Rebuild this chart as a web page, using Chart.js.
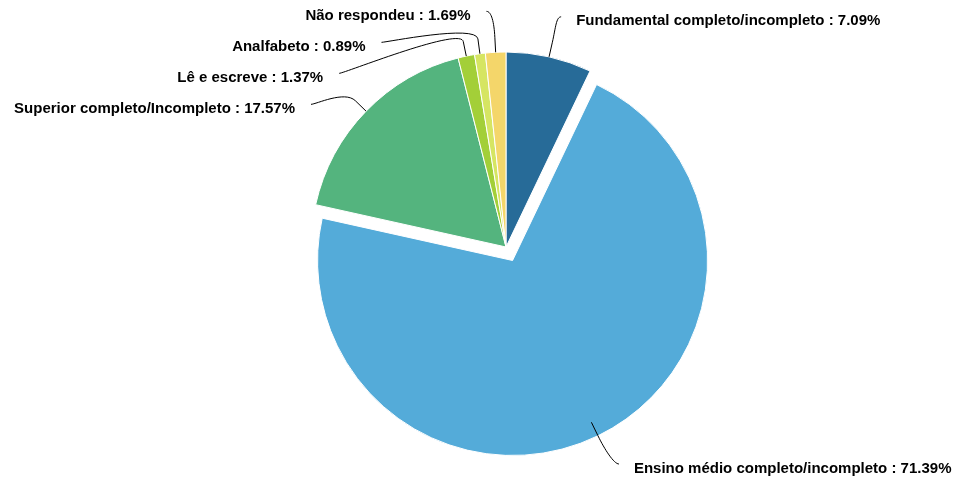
<!DOCTYPE html>
<html>
<head>
<meta charset="utf-8">
<script src="https://cdn.jsdelivr.net/npm/chart.js@4/dist/chart.umd.min.js"></script>
<style>
  html, body { margin: 0; padding: 0; background: #fff; }
  #wrap { width: 956px; height: 483px; }
</style>
</head>
<body>
<div id="wrap"><canvas id="pieChart"></canvas></div>
<script>
// ===== DATA =====
const categories = [
    'Fundamental completo/incompleto',
    'Ensino médio completo/incompleto',
    'Superior completo/Incompleto',
    'Lê e escreve',
    'Analfabeto',
    'Não respondeu'
];
const values = [7.09, 71.39, 17.57, 1.37, 0.89, 1.69];
const colors = ['#276b98', '#54abd9', '#54b47e', '#a3cf38', '#d6e562', '#f4d66a'];
const exploded = [false, true, false, false, false, false];

const EXPLODE = 15;

// ===== PLUGINS =====
// push the sliced arc out along its middle angle
const explodePlugin = {
    id: 'explode',
    afterDatasetsUpdate(chart) {
        const meta = chart.getDatasetMeta(0);
        meta.data.forEach((arc, i) => {
            arc.baseX = arc.x;
            arc.baseY = arc.y;
            if (!exploded[i]) return;
            const mid = (arc.startAngle + arc.endAngle) / 2;
            arc.x += Math.cos(mid) * EXPLODE;
            arc.y += Math.sin(mid) * EXPLODE;
        });
    }
};

// outside labels with soft connectors
const labelPlugin = {
    id: 'outLabels',
    afterDatasetsDraw(chart) {
        const ctx = chart.ctx;
        const meta = chart.getDatasetMeta(0);
        const H = chart.height;
        const left = [], right = [];

        meta.data.forEach((arc, i) => {
            const mid = (arc.startAngle + arc.endAngle) / 2;
            const r = arc.outerRadius;
            const R = r + 41;
            const cos = Math.cos(mid), sin = Math.sin(mid);
            const bx = arc.baseX, by = arc.baseY;
            const item = {
                i, R, bx, by,
                sx: arc.x - bx, sy: arc.y - by,
                isLeft: cos < 0,
                T: { x: bx + cos * r, y: by + sin * r },
                B: { x: bx + cos * (r + 15), y: by + sin * (r + 15) },
                y: by + sin * R
            };
            (item.isLeft ? left : right).push(item);
        });

        const xAt = (it, y) => {
            const dy = y - it.by;
            return Math.sqrt(Math.max(0, it.R * it.R - dy * dy));
        };

        // spread out the left side labels
        left.sort((a, b) => a.y - b.y);
        let prev = -Infinity;
        left.forEach(it => {
            it.y = Math.max(it.y, prev + 31, 10);
            prev = it.y;
            it.L = { x: it.bx - xAt(it, it.y) - 7 + it.sx, y: it.y + it.sy };
        });
        right.forEach(it => {
            it.L = { x: it.bx + xAt(it, it.y) + 3 + it.sx, y: Math.min(it.y + it.sy, H - 19) };
        });

        ctx.save();
        ctx.font = 'bold 15px "Liberation Sans", Arial, sans-serif';
        ctx.textBaseline = 'middle';
        ctx.strokeStyle = '#000';
        ctx.fillStyle = '#000';
        ctx.lineWidth = 1;

        left.concat(right).forEach(it => {
            const L = it.L, T = it.T, B = it.B;

            ctx.beginPath();
            ctx.moveTo(L.x, L.y);
            ctx.bezierCurveTo(L.x + (it.isLeft ? 5 : -5), L.y, 2 * B.x - T.x, 2 * B.y - T.y, B.x, B.y);
            ctx.lineTo(T.x, T.y);
            ctx.stroke();

            const text = categories[it.i] + ' : ' + values[it.i].toFixed(2) + '%';
            ctx.textAlign = it.isLeft ? 'right' : 'left';
            ctx.fillText(text, it.isLeft ? L.x - 16 : L.x + 15, L.y + 4.5);
        });
        ctx.restore();
    }
};

// ===== CHART =====
new Chart(document.getElementById('pieChart'), {
    type: 'pie',
    data: {
        labels: categories,
        datasets: [{
            data: values,
            backgroundColor: colors,
            borderColor: '#ffffff',
            borderWidth: 1,
            clip: false
        }]
    },
    options: {
        responsive: true,
        maintainAspectRatio: false,
        animation: false,
        layout: { padding: { left: 56, right: 0, top: 51.5, bottom: 40.5 } },
        plugins: {
            legend: { display: false },
            tooltip: { enabled: false }
        }
    },
    plugins: [explodePlugin, labelPlugin]
});
</script>
</body>
</html>
